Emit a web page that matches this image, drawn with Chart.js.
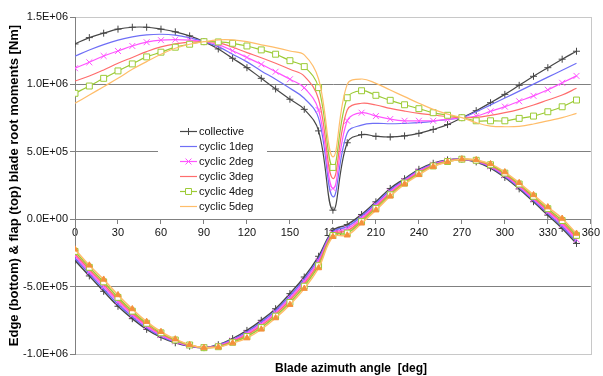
<!DOCTYPE html>
<html>
<head>
<meta charset="utf-8">
<title>Blade root moments</title>
<script src="https://cdn.jsdelivr.net/npm/chart.js@4.4.1/dist/chart.umd.min.js"></script>
<style>
  html, body { margin: 0; padding: 0; background: #fff; }
  #wrap { width: 603px; height: 376px; }
</style>
</head>
<body>
<div id="wrap"><canvas id="moments" width="603" height="376"></canvas></div>
<script>
// azimuth positions, every 10 deg
const azimuth = [0, 10, 20, 30, 40, 50, 60, 70, 80, 90, 100, 110, 120, 130, 140, 150, 160, 170,
                 180, 190, 200, 210, 220, 230, 240, 250, 260, 270, 280, 290, 300, 310, 320, 330, 340, 350];

const seriesNames = ['collective', 'cyclic 1deg', 'cyclic 2deg', 'cyclic 3deg', 'cyclic 4deg', 'cyclic 5deg'];

// flap moments [Nm] (upper group)
const flapCollective = [1.300e6, 1.347e6, 1.380e6, 1.410e6, 1.424e6, 1.424e6, 1.410e6, 1.390e6, 1.360e6, 1.317e6,
  1.263e6, 1.194e6, 1.124e6, 1.045e6, 0.966e6, 0.890e6, 0.815e6, 0.655e6, 0.067e6, 0.567e6,
  0.627e6, 0.615e6, 0.610e6, 0.618e6, 0.637e6, 0.666e6, 0.702e6, 0.753e6, 0.805e6, 0.864e6,
  0.926e6, 0.993e6, 1.060e6, 1.124e6, 1.187e6, 1.246e6];
const flapCyclic1 = [1.209e6, 1.255e6, 1.295e6, 1.328e6, 1.352e6, 1.367e6, 1.372e6, 1.365e6, 1.345e6, 1.317e6,
  1.280e6, 1.224e6, 1.167e6, 1.100e6, 1.038e6, 0.971e6, 0.897e6, 0.750e6, 0.166e6, 0.640e6,
  0.698e6, 0.711e6, 0.708e6, 0.711e6, 0.716e6, 0.726e6, 0.741e6, 0.753e6, 0.797e6, 0.848e6,
  0.899e6, 0.950e6, 1.002e6, 1.054e6, 1.105e6, 1.157e6];
const flapCyclic2 = [1.120e6, 1.164e6, 1.211e6, 1.248e6, 1.285e6, 1.313e6, 1.328e6, 1.332e6, 1.328e6, 1.317e6,
  1.295e6, 1.250e6, 1.200e6, 1.149e6, 1.094e6, 1.038e6, 0.975e6, 0.810e6, 0.228e6, 0.730e6,
  0.790e6, 0.765e6, 0.743e6, 0.730e6, 0.730e6, 0.730e6, 0.741e6, 0.753e6, 0.765e6, 0.800e6,
  0.835e6, 0.875e6, 0.915e6, 0.960e6, 1.012e6, 1.063e6];
const flapCyclic3 = [1.025e6, 1.062e6, 1.107e6, 1.157e6, 1.200e6, 1.243e6, 1.278e6, 1.300e6, 1.313e6, 1.317e6,
  1.310e6, 1.276e6, 1.236e6, 1.198e6, 1.157e6, 1.112e6, 1.062e6, 0.890e6, 0.302e6, 0.810e6,
  0.860e6, 0.847e6, 0.822e6, 0.802e6, 0.785e6, 0.773e6, 0.760e6, 0.753e6, 0.755e6, 0.770e6,
  0.790e6, 0.815e6, 0.847e6, 0.884e6, 0.921e6, 0.971e6];
const flapCyclic4 = [0.934e6, 0.988e6, 1.045e6, 1.100e6, 1.152e6, 1.204e6, 1.239e6, 1.276e6, 1.298e6, 1.317e6,
  1.315e6, 1.305e6, 1.285e6, 1.256e6, 1.224e6, 1.176e6, 1.132e6, 0.976e6, 0.384e6, 0.901e6,
  0.953e6, 0.919e6, 0.882e6, 0.849e6, 0.820e6, 0.790e6, 0.771e6, 0.753e6, 0.730e6, 0.730e6,
  0.730e6, 0.748e6, 0.765e6, 0.797e6, 0.834e6, 0.884e6];
const flapCyclic5 = [0.860e6, 0.921e6, 0.983e6, 1.045e6, 1.112e6, 1.169e6, 1.224e6, 1.268e6, 1.298e6, 1.317e6,
  1.330e6, 1.330e6, 1.317e6, 1.293e6, 1.273e6, 1.248e6, 1.219e6, 1.040e6, 0.463e6, 1.000e6,
  1.040e6, 1.008e6, 0.958e6, 0.909e6, 0.860e6, 0.815e6, 0.780e6, 0.753e6, 0.716e6, 0.691e6,
  0.686e6, 0.689e6, 0.706e6, 0.730e6, 0.753e6, 0.785e6];

// edge moments [Nm] (lower group)
const edgeCollective = [-0.305e6, -0.421e6, -0.535e6, -0.646e6, -0.738e6, -0.817e6, -0.876e6, -0.917e6, -0.942e6, -0.953e6,
  -0.931e6, -0.886e6, -0.825e6, -0.750e6, -0.664e6, -0.552e6, -0.429e6, -0.275e6, -0.085e6, -0.040e6,
  0.035e6, 0.129e6, 0.228e6, 0.300e6, 0.370e6, 0.415e6, 0.440e6, 0.445e6, 0.425e6, 0.380e6,
  0.310e6, 0.225e6, 0.130e6, 0.030e6, -0.069e6, -0.180e6];
const edgeCyclic1 = [-0.290e6, -0.405e6, -0.518e6, -0.630e6, -0.724e6, -0.806e6, -0.868e6, -0.912e6, -0.940e6, -0.953e6,
  -0.935e6, -0.893e6, -0.836e6, -0.763e6, -0.678e6, -0.568e6, -0.445e6, -0.292e6, -0.095e6, -0.055e6,
  0.022e6, 0.117e6, 0.216e6, 0.292e6, 0.362e6, 0.410e6, 0.438e6, 0.445e6, 0.428e6, 0.386e6,
  0.318e6, 0.234e6, 0.140e6, 0.042e6, -0.055e6, -0.165e6];
const edgeCyclic2 = [-0.272e6, -0.390e6, -0.500e6, -0.613e6, -0.710e6, -0.795e6, -0.860e6, -0.907e6, -0.938e6, -0.953e6,
  -0.939e6, -0.900e6, -0.847e6, -0.776e6, -0.692e6, -0.585e6, -0.462e6, -0.310e6, -0.104e6, -0.071e6,
  0.008e6, 0.104e6, 0.204e6, 0.284e6, 0.354e6, 0.405e6, 0.435e6, 0.445e6, 0.431e6, 0.392e6,
  0.326e6, 0.243e6, 0.150e6, 0.054e6, -0.040e6, -0.150e6];
const edgeCyclic3 = [-0.256e6, -0.373e6, -0.482e6, -0.596e6, -0.696e6, -0.783e6, -0.851e6, -0.901e6, -0.935e6, -0.953e6,
  -0.943e6, -0.906e6, -0.859e6, -0.790e6, -0.705e6, -0.601e6, -0.480e6, -0.327e6, -0.112e6, -0.087e6,
  -0.006e6, 0.092e6, 0.192e6, 0.276e6, 0.346e6, 0.400e6, 0.432e6, 0.445e6, 0.434e6, 0.398e6,
  0.334e6, 0.252e6, 0.160e6, 0.066e6, -0.025e6, -0.135e6];
const edgeCyclic4 = [-0.239e6, -0.357e6, -0.465e6, -0.580e6, -0.682e6, -0.772e6, -0.843e6, -0.896e6, -0.933e6, -0.953e6,
  -0.946e6, -0.913e6, -0.870e6, -0.804e6, -0.719e6, -0.618e6, -0.497e6, -0.345e6, -0.121e6, -0.103e6,
  -0.018e6, 0.080e6, 0.181e6, 0.268e6, 0.338e6, 0.395e6, 0.428e6, 0.445e6, 0.437e6, 0.404e6,
  0.342e6, 0.261e6, 0.170e6, 0.078e6, -0.010e6, -0.120e6];
const edgeCyclic5 = [-0.223e6, -0.342e6, -0.447e6, -0.562e6, -0.666e6, -0.760e6, -0.835e6, -0.890e6, -0.931e6, -0.953e6,
  -0.949e6, -0.919e6, -0.882e6, -0.817e6, -0.733e6, -0.634e6, -0.515e6, -0.362e6, -0.130e6, -0.119e6,
  -0.030e6, 0.067e6, 0.170e6, 0.260e6, 0.330e6, 0.390e6, 0.425e6, 0.445e6, 0.440e6, 0.410e6,
  0.350e6, 0.270e6, 0.180e6, 0.090e6, 0.005e6, -0.106e6];

const yTicks = [-1.0e6, -0.5e6, 0, 0.5e6, 1.0e6, 1.5e6];
const xTicks = [0, 30, 60, 90, 120, 150, 180, 210, 240, 270, 300, 330, 360];

const flapSeries = [flapCollective, flapCyclic1, flapCyclic2, flapCyclic3, flapCyclic4, flapCyclic5];
const edgeSeries = [edgeCollective, edgeCyclic1, edgeCyclic2, edgeCyclic3, edgeCyclic4, edgeCyclic5];

const FONT = '"Liberation Sans", Arial, sans-serif';
const lineColors = ['#474747', '#6f6ff6', '#ff55ff', '#ff6d6d', '#9ccb35', '#ffbd6a'];
const flapMarkers = [
  { style: 'cross', r: 3.5, fill: '#474747', stroke: '#474747' },
  { style: false, r: 0 },
  { style: 'crossRot', r: 4.2, fill: '#ff55ff', stroke: '#ff55ff' },
  { style: false, r: 0 },
  { style: 'rect', r: 4.2, fill: '#ffffff', stroke: '#9ccb35' },
  { style: false, r: 0 }
];
const edgeMarkers = [
  flapMarkers[0], flapMarkers[1], flapMarkers[2], flapMarkers[3], flapMarkers[4],
  { style: 'triangle', r: 3.5, fill: '#f4913c', stroke: '#f4913c' }
];

function toPoints(values) {
  return azimuth.map((a, i) => ({ x: a, y: values[i] }));
}

function makeDataset(values, i, marker, group) {
  return {
    label: seriesNames[i],
    group: group,
    data: toPoints(values),
    borderColor: lineColors[i],
    borderWidth: group === 'edge' ? 1.5 : 1.2,
    tension: 0.4,
    pointStyle: marker.style || 'circle',
    pointRadius: marker.r,
    pointBackgroundColor: marker.fill,
    pointBorderColor: marker.stroke,
    pointBorderWidth: 1,
    fill: false,
    order: (group === 'edge' ? 6 : 12) - i
  };
}

const datasets = [];
flapSeries.forEach((s, i) => datasets.push(makeDataset(s, i, flapMarkers[i], 'flap')));
edgeSeries.forEach((s, i) => datasets.push(makeDataset(s, i, edgeMarkers[i], 'edge')));

function sciLabel(v) {
  return v.toExponential(1).toUpperCase().replace(/E([+-])(\d)$/, 'E$10$2');
}

// white page plus the light plot frame, drawn under the axes
const plotFrame = {
  id: 'plotFrame',
  beforeDraw(chart) {
    const { ctx, chartArea: a } = chart;
    ctx.save();
    ctx.fillStyle = '#fff';
    ctx.fillRect(0, 0, chart.width, chart.height);
    ctx.strokeStyle = '#c8c8c8';
    ctx.lineWidth = 1;
    ctx.strokeRect(Math.round(a.left) + 0.5, Math.round(a.top) + 0.5,
                   Math.round(a.right - a.left), Math.round(a.bottom - a.top));
    ctx.restore();
  }
};

// legend box sitting inside the plot, flap series only
const boxLegend = {
  id: 'boxLegend',
  afterDraw(chart) {
    const ctx = chart.ctx;
    ctx.save();
    ctx.fillStyle = '#fff';
    ctx.fillRect(158, 118, 109, 96);
    ctx.font = '11px ' + FONT;
    ctx.textBaseline = 'middle';
    ctx.textAlign = 'left';
    chart.data.datasets.filter(d => d.group === 'flap').forEach((ds, i) => {
      const y = Math.round(131 + i * 14.9) + 0.5;
      ctx.strokeStyle = ds.borderColor;
      ctx.lineWidth = ds.borderWidth;
      ctx.beginPath();
      ctx.moveTo(180, y);
      ctx.lineTo(197, y);
      ctx.stroke();
      if (ds.pointRadius > 0) {
        ctx.strokeStyle = ds.pointBorderColor;
        ctx.fillStyle = ds.pointBackgroundColor;
        ctx.lineWidth = 1;
        Chart.helpers.drawPoint(ctx, { pointStyle: ds.pointStyle, radius: ds.pointRadius, borderWidth: 1, rotation: 0 }, 188.5, y);
      }
      ctx.fillStyle = '#111';
      ctx.fillText(ds.label, 199, y);
    });
    // horizontal axis title
    ctx.font = 'bold 12px ' + FONT;
    ctx.textAlign = 'center';
    ctx.fillStyle = '#000';
    ctx.fillText('Blade azimuth angle  [deg]', 351, 369);
    ctx.restore();
  }
};

new Chart(document.getElementById('moments'), {
  type: 'line',
  data: { datasets: datasets },
  plugins: [plotFrame, boxLegend],
  options: {
    responsive: false,
    animation: false,
    events: [],
    devicePixelRatio: 1,
    layout: { padding: { left: 0, right: 7, top: 17, bottom: 22 } },
    plugins: {
      legend: { display: false },
      tooltip: { enabled: false }
    },
    scales: {
      x: {
        type: 'linear',
        position: { y: 0 },
        min: 0,
        max: 360,
        afterBuildTicks(scale) { scale.ticks = xTicks.map(v => ({ value: v })); },
        ticks: {
          autoSkip: false,
          maxRotation: 0,
          padding: 3,
          color: '#111',
          font: { family: FONT, size: 11 }
        },
        grid: { drawOnChartArea: false, drawTicks: true, tickLength: 4, tickColor: '#808080' },
        border: { color: '#808080', width: 1 }
      },
      y: {
        type: 'linear',
        min: -1.0e6,
        max: 1.5e6,
        afterBuildTicks(scale) { scale.ticks = yTicks.map(v => ({ value: v })); },
        afterFit(scale) { scale.width = 75; },
        ticks: {
          padding: 2,
          color: '#111',
          font: { family: FONT, size: 11 },
          callback: v => sciLabel(v)
        },
        grid: {
          drawTicks: true,
          tickLength: 5,
          tickColor: '#808080',
          color: c => (c.tick && (c.tick.value === 1.5e6 || c.tick.value === -1.0e6)) ? '#c8c8c8' : '#808080'
        },
        border: { color: '#808080', width: 1 },
        title: {
          display: true,
          text: 'Edge (bottom) & flap (top) blade root moments [Nm]',
          color: '#000',
          font: { family: FONT, size: 13, weight: 'bold' },
          padding: { top: 7, bottom: 0 }
        }
      }
    }
  }
});
</script>
</body>
</html>
